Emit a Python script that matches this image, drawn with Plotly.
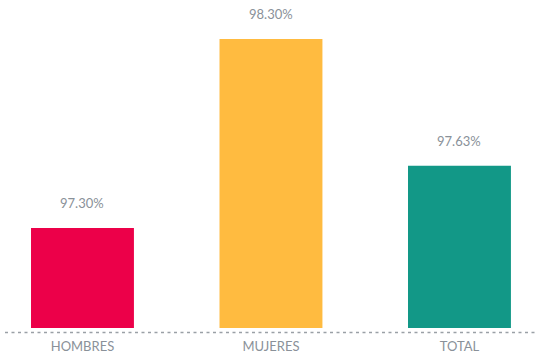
import plotly.graph_objects as go

categories = ["HOMBRES", "MUJERES", "TOTAL"]
values = [97.30, 98.30, 97.63]
labels = ["97.30%", "98.30%", "97.63%"]
colors = ["#EC0049", "#FFBB40", "#129887"]

W, H = 540, 358
plot_top, plot_bottom = 0, 328
plot_h = plot_bottom - plot_top
px_per_unit = 188.9
y_min = 97.30 - 100 / px_per_unit
y_max = y_min + plot_h / px_per_unit

fig = go.Figure()
fig.add_trace(go.Bar(
    x=categories, y=values, marker=dict(color=colors, line=dict(width=0)),
    width=0.546, hoverinfo="skip",
))

for c, v, t in zip(categories, values, labels):
    fig.add_annotation(x=c, y=v, text=t, showarrow=False, yanchor="bottom",
                       yshift=15, font=dict(family="Lato", size=13, color="#8A9199"))

fig.add_shape(type="line", xref="paper", yref="paper", x0=0, x1=1,
              y0=-4.5 / plot_h, y1=-4.5 / plot_h,
              line=dict(color="#9AA0A6", width=1.7, dash="3px,3.5px"))

fig.update_layout(
    width=W, height=H,
    margin=dict(l=5, r=4, t=plot_top, b=H - plot_bottom),
    plot_bgcolor="white", paper_bgcolor="white",
    showlegend=False,
    xaxis=dict(range=[-0.411, 2.406], showgrid=False, zeroline=False, showline=False,
               ticks="outside", ticklen=6, tickcolor="rgba(0,0,0,0)",
               tickfont=dict(family="Lato", size=13, color="#8A9199")),
    yaxis=dict(range=[y_min, y_max], visible=False),
)

fig.write_html("out.html")
